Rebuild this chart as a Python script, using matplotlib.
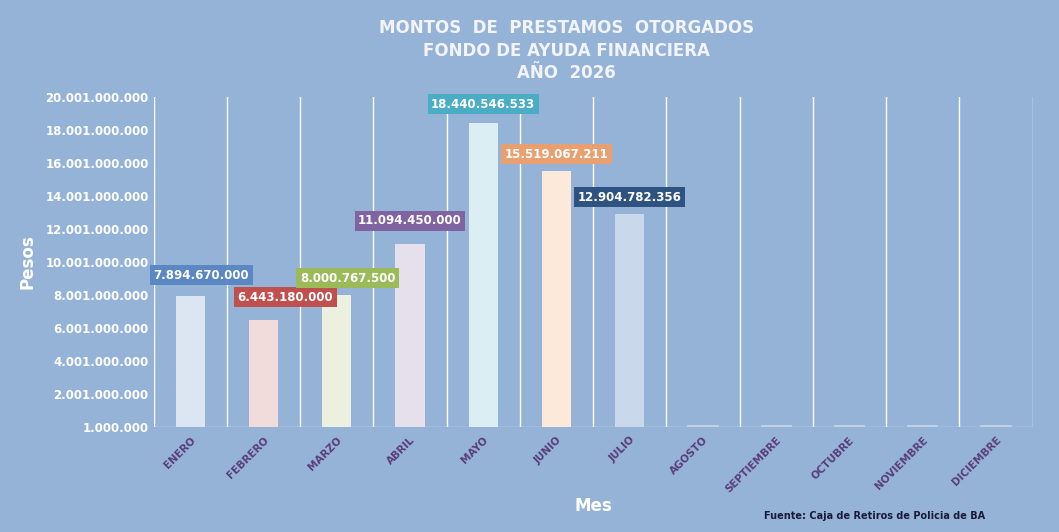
import matplotlib
matplotlib.use("Agg")
import matplotlib.pyplot as plt
from matplotlib.ticker import FuncFormatter

months = ["ENERO","FEBRERO","MARZO","ABRIL","MAYO","JUNIO","JULIO","AGOSTO","SEPTIEMBRE","OCTUBRE","NOVIEMBRE","DICIEMBRE"]
values = [7894670000, 6443180000, 8000767500, 11094450000, 18440546533, 15519067211, 12904782356, 0, 0, 0, 0, 0]
bar_colors = ["#dce6f2","#f2dcdb","#ebf1de","#e6e0ec","#dbeef4","#fde9d9","#c9d8ea","#c9d8ea","#c9d8ea","#c9d8ea","#c9d8ea","#c9d8ea"]
box_colors = ["#5b88c2","#c0504d","#9bbb59","#8064a2","#4bacc6","#e8a070","#2f5381"]
yticks = [1000000 + 2000000000*i for i in range(11)]

def fmt(v):
    return f"{int(v):,}".replace(",", ".")

bg = "#95b3d7"
fig = plt.figure(figsize=(10.59, 5.32), dpi=100, facecolor=bg)
ax = fig.add_axes([0.145, 0.198, 0.83, 0.62], facecolor=bg)
x = list(range(len(months)))
base = 1000000
heights = [max(v - base, 0) for v in values]
ax.bar(x, heights, bottom=base, width=0.4, color=bar_colors, zorder=3)
for i, v in enumerate(values):
    if v == 0:
        ax.plot([i-0.2, i+0.2], [base+40e6]*2, color="#c9d8ea", lw=1.2, zorder=3)
ax.set_xlim(-0.5, 11.5)
ax.set_ylim(base, 20001000000)
ax.set_yticks(yticks)
ax.yaxis.set_major_formatter(FuncFormatter(lambda v, p: fmt(v)))
ax.set_xticks([i + 0.5 for i in range(-1, 12)], minor=True)
ax.grid(True, which="minor", axis="x", color="white", lw=1, zorder=1)
ax.set_xticks(x)
ax.set_xticklabels(months, rotation=45, ha="right", rotation_mode="anchor",
                   fontsize=7.5, fontweight="bold", color="#5a3d7a")
ax.tick_params(axis="y", labelsize=8.5, labelcolor="white", length=0)
for t in ax.get_yticklabels():
    t.set_fontweight("bold")
ax.tick_params(axis="x", which="both", length=0, pad=6)
for s in ax.spines.values():
    s.set_visible(False)
ax.axhline(base, color="#c9d8ea", lw=1, zorder=2)
offs = [0.15, 0.3, 0.15, 0.0, 0.0, 0.0, 0.0]
ups = [1.3e9, 1.4e9, 1.0e9, 1.4e9, 1.1e9, 1.0e9, 1.0e9]
for i in range(7):
    ax.text(i + offs[i], values[i] + ups[i], fmt(values[i]), ha="center", va="center",
            fontsize=8.5, fontweight="bold", color="white", zorder=5,
            bbox=dict(boxstyle="square,pad=0.3", fc=box_colors[i], ec="none"))
ax.set_ylabel("Pesos", fontsize=12, fontweight="bold", color="white", labelpad=6)
ax.set_xlabel("Mes", fontsize=12, fontweight="bold", color="white", labelpad=2)
fig.text(0.535, 0.905, "MONTOS  DE  PRESTAMOS  OTORGADOS\nFONDO DE AYUDA FINANCIERA\nAÑO  2026",
         ha="center", va="center", fontsize=12, fontweight="bold", color="#f2f4fa", linespacing=1.35)
fig.text(0.93, 0.025, "Fuente: Caja de Retiros de Policia de BA", ha="right", fontsize=7,
         fontweight="bold", color="#1a1a3a")
fig.savefig("out.png", dpi=100, facecolor=bg)
